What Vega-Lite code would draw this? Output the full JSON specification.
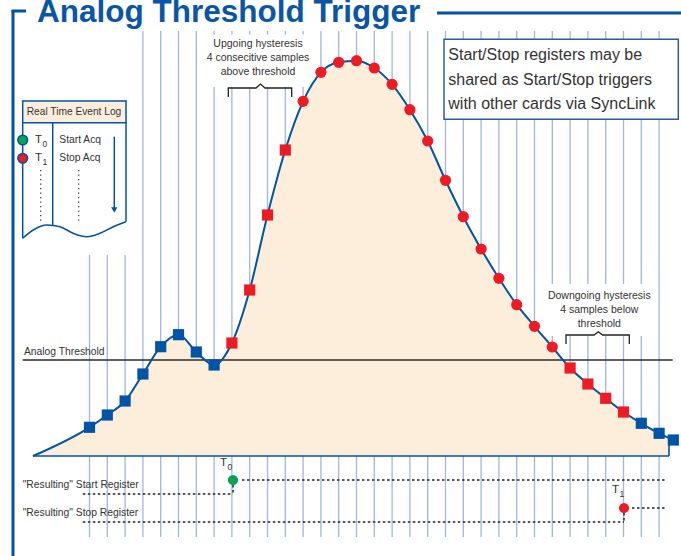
{
 "$schema": "https://vega.github.io/schema/vega-lite/v6.json",
 "width": 681, "height": 556, "padding": 0, "autosize": {"type": "none"},
 "background": "white",
 "config": {"view": {"stroke": null}, "text": {"font": "Liberation Sans", "color": "#333333"}},
 "datasets": {
  "gridlines": [
   {"t":0,"v":201,"v2":-81},{"t":1,"v":201,"v2":-81},{"t":2,"v":201,"v2":-81},
   {"t":3,"v":425,"v2":-81},{"t":4,"v":425,"v2":-81},{"t":5,"v":425,"v2":-81},{"t":6,"v":425,"v2":-81},
   {"t":7,"v":425,"v2":-81},{"t":8,"v":425,"v2":-81},{"t":9,"v":425,"v2":-81},{"t":10,"v":425,"v2":-81},
   {"t":11,"v":425,"v2":-81},{"t":12,"v":425,"v2":-81},{"t":13,"v":425,"v2":-81},{"t":14,"v":425,"v2":-81},
   {"t":15,"v":425,"v2":-81},{"t":16,"v":425,"v2":-81},{"t":17,"v":425,"v2":-81},{"t":18,"v":425,"v2":-81},
   {"t":19,"v":425,"v2":-81},{"t":20,"v":425,"v2":-81},{"t":21,"v":425,"v2":-81},{"t":22,"v":425,"v2":-81},
   {"t":23,"v":425,"v2":-81},{"t":24,"v":425,"v2":-81},{"t":25,"v":425,"v2":-81},{"t":26,"v":425,"v2":-81},
   {"t":27,"v":425,"v2":-81},{"t":28,"v":425,"v2":-81},{"t":29,"v":425,"v2":-81},{"t":30,"v":425,"v2":-81},
   {"t":31,"v":425,"v2":-81},{"t":32,"v":425,"v2":-81}
  ],
  "masks": [
   {"t":6.66,"t2":12.5,"v":421.5,"v2":369},
   {"t":25.59,"t2":31.6,"v":172,"v2":120}
  ],
  "samples": [
   {"t":0,"v":28.7,"phase":"idle"},{"t":1,"v":41,"phase":"idle"},{"t":2,"v":55,"phase":"idle"},
   {"t":3,"v":82,"phase":"idle"},{"t":4,"v":109.3,"phase":"idle"},{"t":5,"v":121.3,"phase":"idle"},
   {"t":6,"v":104,"phase":"idle"},{"t":7,"v":91,"phase":"idle"},
   {"t":8,"v":113,"phase":"hysteresis"},{"t":9,"v":166,"phase":"hysteresis"},
   {"t":10,"v":241,"phase":"hysteresis"},{"t":11,"v":306,"phase":"hysteresis"},
   {"t":12,"v":354.7,"phase":"active"},{"t":13,"v":383.7,"phase":"active"},{"t":14,"v":393.7,"phase":"active"},
   {"t":15,"v":395.3,"phase":"active"},{"t":16,"v":388,"phase":"active"},{"t":17,"v":371.7,"phase":"active"},
   {"t":18,"v":346.3,"phase":"active"},{"t":19,"v":315,"phase":"active"},{"t":20,"v":275.7,"phase":"active"},
   {"t":21,"v":239.3,"phase":"active"},{"t":22,"v":207,"phase":"active"},{"t":23,"v":177.7,"phase":"active"},
   {"t":24,"v":151.3,"phase":"active"},{"t":25,"v":129.7,"phase":"active"},{"t":26,"v":109,"phase":"active"},
   {"t":27,"v":88,"phase":"hysteresis"},{"t":28,"v":72,"phase":"hysteresis"},
   {"t":29,"v":57.7,"phase":"hysteresis"},{"t":30,"v":44,"phase":"hysteresis"},
   {"t":31,"v":32.7,"phase":"idle"},{"t":32,"v":22.7,"phase":"idle"},{"t":32.8,"v":16,"phase":"idle"}
  ],
  "trace": [
   {"t":-3.174,"v":0},
   {"t":0,"v":28.7},{"t":1,"v":41},{"t":2,"v":55},{"t":3,"v":82},{"t":4,"v":109.3},{"t":5,"v":121.3},
   {"t":6,"v":104},{"t":7,"v":91},{"t":8,"v":113},{"t":9,"v":166},{"t":10,"v":241},{"t":11,"v":306},
   {"t":12,"v":354.7},{"t":13,"v":383.7},{"t":14,"v":393.7},{"t":15,"v":395.3},{"t":16,"v":388},
   {"t":17,"v":371.7},{"t":18,"v":346.3},{"t":19,"v":315},{"t":20,"v":275.7},{"t":21,"v":239.3},
   {"t":22,"v":207},{"t":23,"v":177.7},{"t":24,"v":151.3},{"t":25,"v":129.7},{"t":26,"v":109},
   {"t":27,"v":88},{"t":28,"v":72},{"t":29,"v":57.7},{"t":30,"v":44},{"t":31,"v":32.7},{"t":32,"v":22.7},
   {"t":32.556,"v":18},{"t":32.8,"v":16}
  ],
  "outline": [
   {"t":-3.174,"t2":32.556,"v":0,"v2":0},
   {"t":32.556,"t2":32.556,"v":0,"v2":18}
  ],
  "braces": [
   {"id":"up","ord":1,"t":7.798,"v":359},{"id":"up","ord":2,"t":7.798,"v":368},{"id":"up","ord":3,"t":9.354,"v":368},
   {"id":"up","ord":4,"t":9.607,"v":372},{"id":"up","ord":5,"t":9.86,"v":368},{"id":"up","ord":6,"t":11.36,"v":368},
   {"id":"up","ord":7,"t":11.36,"v":359},
   {"id":"down","ord":1,"t":26.77,"v":112},{"id":"down","ord":2,"t":26.77,"v":121},{"id":"down","ord":3,"t":28.343,"v":121},
   {"id":"down","ord":4,"t":28.584,"v":124.3},{"id":"down","ord":5,"t":28.826,"v":121},{"id":"down","ord":6,"t":30.326,"v":121},
   {"id":"down","ord":7,"t":30.326,"v":112}
  ],
  "notes": [
   {"t":9.466,"v":412.5,"label":"Upgoing hysteresis"},
   {"t":9.466,"v":398.5,"label":"4 consecitive samples"},
   {"t":9.466,"v":384,"label":"above threshold"},
   {"t":28.64,"v":160.3,"label":"Downgoing hysteresis"},
   {"t":28.64,"v":146,"label":"4 samples below"},
   {"t":28.64,"v":131.7,"label":"threshold"}
  ],
  "labels": [
   {"t":-3.68,"v":104.3,"label":"Analog Threshold"},
   {"t":-3.753,"v":-29,"label":"\"Resulting\" Start Register"},
   {"t":-3.753,"v":-57,"label":"\"Resulting\" Stop Register"},
   {"t":-1.697,"v":316,"label":"Start Acq"},
   {"t":-1.697,"v":297.7,"label":"Stop Acq"}
  ],
  "tsym": [
   {"t":-3.062,"v":316,"label":"T"},
   {"t":-3.062,"v":297.7,"label":"T"},
   {"t":7.331,"v":-7,"label":"T"},
   {"t":29.354,"v":-34,"label":"T"}
  ],
  "tsub": [
   {"t":-2.64,"v":312.5,"label":"0"},
   {"t":-2.64,"v":294.2,"label":"1"},
   {"t":7.753,"v":-10.5,"label":"0"},
   {"t":29.775,"v":-37.5,"label":"1"}
  ],
  "logRules": [
   {"t":-3.753,"t2":-3.753,"v":333.3,"v2":217.7},
   {"t":2.051,"t2":2.051,"v":333.3,"v2":234.3},
   {"t":-2.067,"t2":-2.067,"v":333.3,"v2":231},
   {"t":1.393,"t2":1.393,"v":319.3,"v2":248}
  ],
  "logWave": [
   {"t":-3.753,"v":217.7},{"t":-3.157,"v":226},{"t":-2.404,"v":231},{"t":-1.657,"v":229.3},
   {"t":-0.91,"v":222.7},{"t":-0.157,"v":219.3},{"t":0.59,"v":222.7},{"t":1.337,"v":229.3},{"t":2.051,"v":234.3}
  ],
  "logDots": [
   {"t":-2.742,"t2":-2.742,"v":286,"v2":233},
   {"t":-0.607,"t2":-0.607,"v":286,"v2":233}
  ],
  "registers": [
   {"t":8.567,"t2":32.427,"v":-24,"v2":-24},
   {"t":-0.376,"t2":8.062,"v":-38,"v2":-38},
   {"t":8.062,"t2":8.062,"v":-29,"v2":-38},
   {"t":30.478,"t2":32.427,"v":-52,"v2":-52},
   {"t":-0.376,"t2":30.028,"v":-66,"v2":-66},
   {"t":30.028,"t2":30.028,"v":-57,"v2":-66}
  ],
  "frame": [
   {"t":-4.298,"t2":-4.298,"v":446,"v2":-100},
   {"t":-4.38,"t2":-3.567,"v":445,"v2":445},
   {"t":19.522,"t2":33.3,"v":443,"v2":443}
  ]
 },
 "layer": [
  {"data": {"name": "gridlines"}, "mark": {"type": "rule", "color": "#A4B4E0", "strokeWidth": 1.3},
   "encoding": {
    "x": {"field": "t", "type": "quantitative", "scale": {"domain": [-5.0281, 33.2303], "nice": false, "zero": false}, "axis": null},
    "y": {"field": "v", "type": "quantitative", "scale": {"domain": [-100, 456], "nice": false, "zero": false}, "axis": null},
    "y2": {"field": "v2"}}},
  {"data": {"name": "masks"}, "mark": {"type": "rect", "color": "white", "opacity": 1},
   "encoding": {
    "x": {"field": "t", "type": "quantitative", "scale": {"domain": [-5.0281, 33.2303], "nice": false, "zero": false}, "axis": null},
    "x2": {"field": "t2"},
    "y": {"field": "v", "type": "quantitative", "scale": {"domain": [-100, 456], "nice": false, "zero": false}, "axis": null},
    "y2": {"field": "v2"}}},
  {"data": {"name": "trace"}, "transform": [{"filter": "datum.t <= 32.6"}],
   "mark": {"type": "area", "color": "#FDEEDC", "opacity": 1, "interpolate": "monotone"},
   "encoding": {
    "x": {"field": "t", "type": "quantitative", "scale": {"domain": [-5.0281, 33.2303], "nice": false, "zero": false}, "axis": null},
    "y": {"field": "v", "type": "quantitative", "scale": {"domain": [-100, 456], "nice": false, "zero": false}, "axis": null},
    "y2": {"datum": 0}}},
  {"data": {"name": "outline"}, "mark": {"type": "rule", "color": "#0054A6", "strokeWidth": 1.6},
   "encoding": {
    "x": {"field": "t", "type": "quantitative", "scale": {"domain": [-5.0281, 33.2303], "nice": false, "zero": false}, "axis": null},
    "x2": {"field": "t2"},
    "y": {"field": "v", "type": "quantitative", "scale": {"domain": [-100, 456], "nice": false, "zero": false}, "axis": null},
    "y2": {"field": "v2"}}},
  {"data": {"values": [{"t": -3.753, "t2": 32.764, "v": 96}]}, "mark": {"type": "rule", "color": "#2B2B2B", "strokeWidth": 1.5},
   "encoding": {
    "x": {"field": "t", "type": "quantitative", "scale": {"domain": [-5.0281, 33.2303], "nice": false, "zero": false}, "axis": null},
    "x2": {"field": "t2"},
    "y": {"field": "v", "type": "quantitative", "scale": {"domain": [-100, 456], "nice": false, "zero": false}, "axis": null}}},
  {"data": {"name": "trace"}, "mark": {"type": "line", "color": "#0054A6", "strokeWidth": 2, "interpolate": "monotone"},
   "encoding": {
    "x": {"field": "t", "type": "quantitative", "scale": {"domain": [-5.0281, 33.2303], "nice": false, "zero": false}, "axis": null},
    "y": {"field": "v", "type": "quantitative", "scale": {"domain": [-100, 456], "nice": false, "zero": false}, "axis": null}}},
  {"data": {"name": "samples"}, "mark": {"type": "point", "filled": true, "opacity": 1, "size": 125},
   "encoding": {
    "x": {"field": "t", "type": "quantitative", "scale": {"domain": [-5.0281, 33.2303], "nice": false, "zero": false}, "axis": null},
    "y": {"field": "v", "type": "quantitative", "scale": {"domain": [-100, 456], "nice": false, "zero": false}, "axis": null},
    "color": {"field": "phase", "type": "nominal", "scale": {"domain": ["idle", "hysteresis", "active"], "range": ["#0054A6", "#ED1C24", "#ED1C24"]}, "legend": null},
    "shape": {"field": "phase", "type": "nominal", "scale": {"domain": ["idle", "hysteresis", "active"], "range": ["square", "square", "circle"]}, "legend": null}}},
  {"data": {"values": [{"t": 19.916, "t2": 33.079, "v": 416.7, "v2": 336.7}]}, "mark": {"type": "rect", "fill": "white", "stroke": "#2A5DA8", "strokeWidth": 1.5},
   "encoding": {
    "x": {"field": "t", "type": "quantitative", "scale": {"domain": [-5.0281, 33.2303], "nice": false, "zero": false}, "axis": null},
    "x2": {"field": "t2"},
    "y": {"field": "v", "type": "quantitative", "scale": {"domain": [-100, 456], "nice": false, "zero": false}, "axis": null},
    "y2": {"field": "v2"}}},
  {"data": {"values": [{"t": 20.157, "v": 401, "label": "Start/Stop registers may be"}, {"t": 20.157, "v": 376, "label": "shared as Start/Stop triggers"}, {"t": 20.157, "v": 352, "label": "with other cards via SyncLink"}]},
   "mark": {"type": "text", "align": "left", "baseline": "middle", "fontSize": 16},
   "encoding": {
    "x": {"field": "t", "type": "quantitative", "scale": {"domain": [-5.0281, 33.2303], "nice": false, "zero": false}, "axis": null},
    "y": {"field": "v", "type": "quantitative", "scale": {"domain": [-100, 456], "nice": false, "zero": false}, "axis": null},
    "text": {"field": "label"}}},
  {"data": {"name": "notes"}, "mark": {"type": "text", "align": "center", "baseline": "middle", "fontSize": 10.5},
   "encoding": {
    "x": {"field": "t", "type": "quantitative", "scale": {"domain": [-5.0281, 33.2303], "nice": false, "zero": false}, "axis": null},
    "y": {"field": "v", "type": "quantitative", "scale": {"domain": [-100, 456], "nice": false, "zero": false}, "axis": null},
    "text": {"field": "label"}}},
  {"data": {"name": "braces"}, "mark": {"type": "line", "color": "#222222", "strokeWidth": 1.3},
   "encoding": {
    "x": {"field": "t", "type": "quantitative", "scale": {"domain": [-5.0281, 33.2303], "nice": false, "zero": false}, "axis": null},
    "y": {"field": "v", "type": "quantitative", "scale": {"domain": [-100, 456], "nice": false, "zero": false}, "axis": null},
    "order": {"field": "ord"},
    "detail": {"field": "id"}}},
  {"data": {"values": [{"t": -3.753, "t2": 2.051, "v": 355, "v2": 333.3}]}, "mark": {"type": "rect", "fill": "#FDEEDC", "stroke": "#0054A6", "strokeWidth": 1.5},
   "encoding": {
    "x": {"field": "t", "type": "quantitative", "scale": {"domain": [-5.0281, 33.2303], "nice": false, "zero": false}, "axis": null},
    "x2": {"field": "t2"},
    "y": {"field": "v", "type": "quantitative", "scale": {"domain": [-100, 456], "nice": false, "zero": false}, "axis": null},
    "y2": {"field": "v2"}}},
  {"data": {"values": [{"t": -0.871, "v": 344, "label": "Real Time Event Log"}]}, "mark": {"type": "text", "align": "center", "baseline": "middle", "fontSize": 10.2},
   "encoding": {
    "x": {"field": "t", "type": "quantitative", "scale": {"domain": [-5.0281, 33.2303], "nice": false, "zero": false}, "axis": null},
    "y": {"field": "v", "type": "quantitative", "scale": {"domain": [-100, 456], "nice": false, "zero": false}, "axis": null},
    "text": {"field": "label"}}},
  {"data": {"name": "logRules"}, "mark": {"type": "rule", "color": "#0054A6", "strokeWidth": 1.5},
   "encoding": {
    "x": {"field": "t", "type": "quantitative", "scale": {"domain": [-5.0281, 33.2303], "nice": false, "zero": false}, "axis": null},
    "x2": {"field": "t2"},
    "y": {"field": "v", "type": "quantitative", "scale": {"domain": [-100, 456], "nice": false, "zero": false}, "axis": null},
    "y2": {"field": "v2"}}},
  {"data": {"values": [{"t": 1.393, "v": 246}]}, "mark": {"type": "point", "shape": "triangle-down", "filled": true, "opacity": 1, "size": 40, "color": "#0054A6"},
   "encoding": {
    "x": {"field": "t", "type": "quantitative", "scale": {"domain": [-5.0281, 33.2303], "nice": false, "zero": false}, "axis": null},
    "y": {"field": "v", "type": "quantitative", "scale": {"domain": [-100, 456], "nice": false, "zero": false}, "axis": null}}},
  {"data": {"name": "logWave"}, "mark": {"type": "line", "color": "#0054A6", "strokeWidth": 1.5, "interpolate": "monotone"},
   "encoding": {
    "x": {"field": "t", "type": "quantitative", "scale": {"domain": [-5.0281, 33.2303], "nice": false, "zero": false}, "axis": null},
    "y": {"field": "v", "type": "quantitative", "scale": {"domain": [-100, 456], "nice": false, "zero": false}, "axis": null}}},
  {"data": {"name": "logDots"}, "mark": {"type": "rule", "color": "#333333", "strokeWidth": 1.2, "strokeDash": [1.2, 3.3]},
   "encoding": {
    "x": {"field": "t", "type": "quantitative", "scale": {"domain": [-5.0281, 33.2303], "nice": false, "zero": false}, "axis": null},
    "x2": {"field": "t2"},
    "y": {"field": "v", "type": "quantitative", "scale": {"domain": [-100, 456], "nice": false, "zero": false}, "axis": null},
    "y2": {"field": "v2"}}},
  {"data": {"name": "registers"}, "mark": {"type": "rule", "color": "#222222", "strokeWidth": 1.5, "strokeDash": [2.5, 2.5]},
   "encoding": {
    "x": {"field": "t", "type": "quantitative", "scale": {"domain": [-5.0281, 33.2303], "nice": false, "zero": false}, "axis": null},
    "x2": {"field": "t2"},
    "y": {"field": "v", "type": "quantitative", "scale": {"domain": [-100, 456], "nice": false, "zero": false}, "axis": null},
    "y2": {"field": "v2"}}},
  {"data": {"values": [{"t": -3.753, "v": 316, "event": "start"}, {"t": -3.753, "v": 297.7, "event": "stop"}]},
   "mark": {"type": "point", "filled": true, "opacity": 1, "size": 95, "stroke": "#0054A6", "strokeWidth": 1.5},
   "encoding": {
    "x": {"field": "t", "type": "quantitative", "scale": {"domain": [-5.0281, 33.2303], "nice": false, "zero": false}, "axis": null},
    "y": {"field": "v", "type": "quantitative", "scale": {"domain": [-100, 456], "nice": false, "zero": false}, "axis": null},
    "fill": {"field": "event", "type": "nominal", "scale": {"domain": ["start", "stop"], "range": ["#00A651", "#ED1C24"]}, "legend": null}}},
  {"data": {"values": [{"t": 8.062, "v": -24, "event": "start"}, {"t": 30.028, "v": -52, "event": "stop"}]},
   "mark": {"type": "point", "filled": true, "opacity": 1, "size": 105, "strokeWidth": 0},
   "encoding": {
    "x": {"field": "t", "type": "quantitative", "scale": {"domain": [-5.0281, 33.2303], "nice": false, "zero": false}, "axis": null},
    "y": {"field": "v", "type": "quantitative", "scale": {"domain": [-100, 456], "nice": false, "zero": false}, "axis": null},
    "fill": {"field": "event", "type": "nominal", "scale": {"domain": ["start", "stop"], "range": ["#00A651", "#ED1C24"]}, "legend": null}}},
  {"data": {"name": "labels"}, "mark": {"type": "text", "align": "left", "baseline": "middle", "fontSize": 10.3},
   "encoding": {
    "x": {"field": "t", "type": "quantitative", "scale": {"domain": [-5.0281, 33.2303], "nice": false, "zero": false}, "axis": null},
    "y": {"field": "v", "type": "quantitative", "scale": {"domain": [-100, 456], "nice": false, "zero": false}, "axis": null},
    "text": {"field": "label"}}},
  {"data": {"name": "tsym"}, "mark": {"type": "text", "align": "left", "baseline": "middle", "fontSize": 11.5},
   "encoding": {
    "x": {"field": "t", "type": "quantitative", "scale": {"domain": [-5.0281, 33.2303], "nice": false, "zero": false}, "axis": null},
    "y": {"field": "v", "type": "quantitative", "scale": {"domain": [-100, 456], "nice": false, "zero": false}, "axis": null},
    "text": {"field": "label"}}},
  {"data": {"name": "tsub"}, "mark": {"type": "text", "align": "left", "baseline": "middle", "fontSize": 8.5},
   "encoding": {
    "x": {"field": "t", "type": "quantitative", "scale": {"domain": [-5.0281, 33.2303], "nice": false, "zero": false}, "axis": null},
    "y": {"field": "v", "type": "quantitative", "scale": {"domain": [-100, 456], "nice": false, "zero": false}, "axis": null},
    "text": {"field": "label"}}},
  {"data": {"name": "frame"}, "mark": {"type": "rule", "color": "#0054A6", "strokeWidth": 3},
   "encoding": {
    "x": {"field": "t", "type": "quantitative", "scale": {"domain": [-5.0281, 33.2303], "nice": false, "zero": false}, "axis": null},
    "x2": {"field": "t2"},
    "y": {"field": "v", "type": "quantitative", "scale": {"domain": [-100, 456], "nice": false, "zero": false}, "axis": null},
    "y2": {"field": "v2"}}},
  {"data": {"values": [{"t": -2.949, "v": 434, "label": "Analog Threshold Trigger"}]},
   "mark": {"type": "text", "align": "left", "baseline": "alphabetic", "fontSize": 31.5, "fontWeight": "bold", "font": "Liberation Sans", "color": "#0A56A6"},
   "encoding": {
    "x": {"field": "t", "type": "quantitative", "scale": {"domain": [-5.0281, 33.2303], "nice": false, "zero": false}, "axis": null},
    "y": {"field": "v", "type": "quantitative", "scale": {"domain": [-100, 456], "nice": false, "zero": false}, "axis": null},
    "text": {"field": "label"}}}
 ]
}
